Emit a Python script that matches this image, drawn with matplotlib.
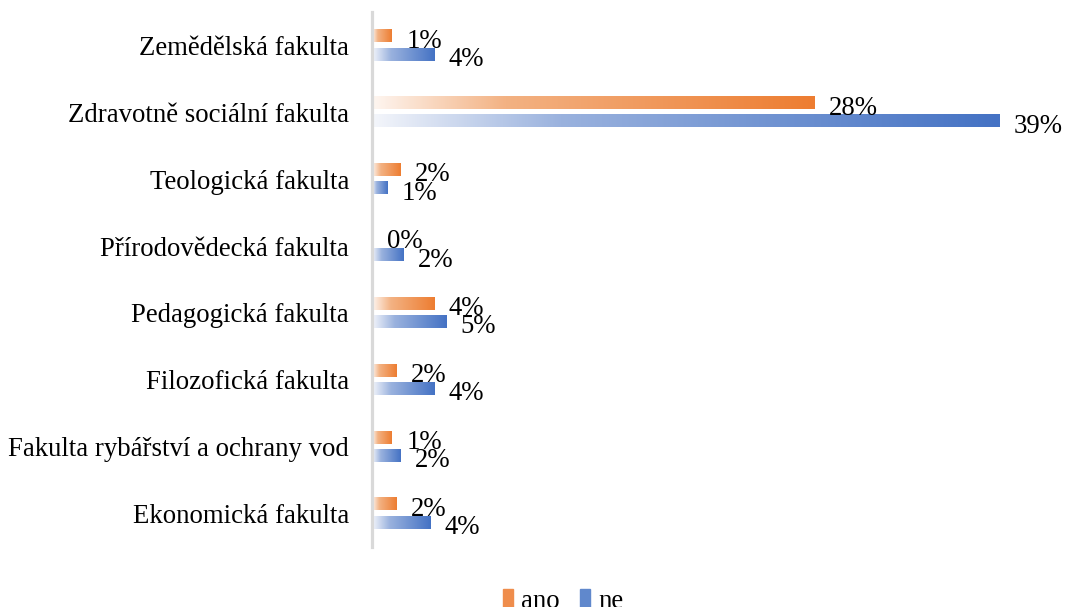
import numpy as np
import matplotlib
matplotlib.use("Agg")
import matplotlib.pyplot as plt
from matplotlib.colors import LinearSegmentedColormap
from matplotlib.patches import Rectangle

# data (share of respondents, %)
faculties = ["Zemědělská fakulta", "Zdravotně sociální fakulta", "Teologická fakulta",
             "Přírodovědecká fakulta", "Pedagogická fakulta", "Filozofická fakulta",
             "Fakulta rybářství a ochrany vod", "Ekonomická fakulta"]
ano = [1.25, 27.7, 1.76, 0.0, 3.89, 1.55, 1.23, 1.55]
ne = [3.89, 39.3, 0.94, 1.99, 4.64, 3.89, 1.76, 3.64]
series_names = ["ano", "ne"]

plt.rcParams["font.family"] = ["Liberation Serif", "DejaVu Serif"]

cmap_orange = LinearSegmentedColormap.from_list(
    "org", [(0, "#fef6f1"), (0.3, "#f3b283"), (1, "#ed7d31")])
cmap_blue = LinearSegmentedColormap.from_list(
    "blu", [(0, "#f4f6fb"), (0.3, "#9ab2de"), (1, "#4472c4")])
grad = np.linspace(0, 1, 256).reshape(1, -1)

fig = plt.figure(figsize=(10.65, 6.07), dpi=100)
ax = fig.add_axes([372 / 1065, 1 - 547 / 607, 645 / 1065, 535 / 607])

n = len(faculties)
ypos = np.arange(n)
h = 0.18
off = 0.137


def grad_bar(y, w, cmap):
    if w <= 0:
        return
    ax.imshow(grad, cmap=cmap, extent=[0, w, y - h / 2, y + h / 2],
              aspect="auto", interpolation="bilinear", zorder=2)


for i in range(n):
    grad_bar(ypos[i] - off, ano[i], cmap_orange)
    grad_bar(ypos[i] + off, ne[i], cmap_blue)
    for val, yy in ((ano[i], ypos[i] - off), (ne[i], ypos[i] + off)):
        ax.annotate(f"{val:.0f}%", (val, yy), xytext=(10.5, -3.5),
                    textcoords="offset points", ha="left", va="center",
                    fontsize=19.3, color="black", annotation_clip=False)

ax.set_xlim(0, 40.4)
ax.set_ylim(n - 0.5, -0.5)
ax.set_yticks(ypos)
ax.set_yticklabels(faculties, fontsize=19.3)
ax.set_xticks([])
ax.tick_params(axis="y", length=0, pad=16.5)
for s in ("top", "right", "bottom"):
    ax.spines[s].set_visible(False)
ax.spines["left"].set_color("#d9d9d9")
ax.spines["left"].set_linewidth(2.3)

handles = [Rectangle((0, 0), 1, 1, color="#ef8d4c"), Rectangle((0, 0), 1, 1, color="#6088cc")]
fig.legend(handles, series_names, loc="center", bbox_to_anchor=(563 / 1065, 1 - 601 / 607),
           ncol=2, frameon=False, fontsize=19.3, handlelength=0.38, handleheight=0.7,
           handletextpad=0.3, columnspacing=0.75)

fig.savefig("out.png", dpi=100)
